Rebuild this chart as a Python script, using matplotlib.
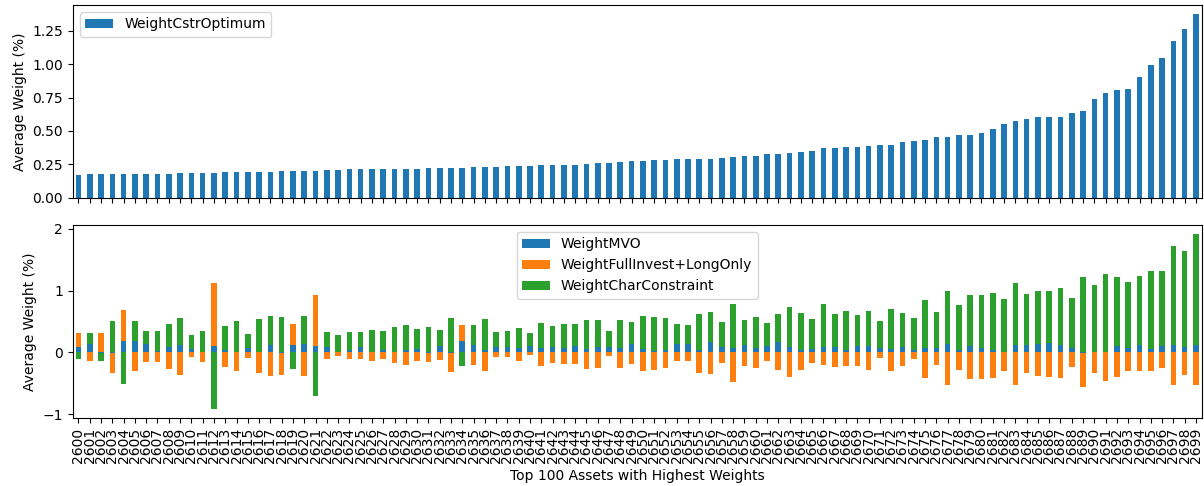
import pandas as pd
import matplotlib
matplotlib.use('Agg')
import matplotlib.pyplot as plt

assets = [str(a) for a in range(2600, 2700)]

cstr_optimum = [0.171, 0.178, 0.178, 0.178, 0.178, 0.178, 0.178, 0.178, 0.178, 0.186,
                0.186, 0.186, 0.186, 0.193, 0.193, 0.193, 0.193, 0.193, 0.200, 0.200,
                0.200, 0.200, 0.208, 0.208, 0.215, 0.215, 0.215, 0.215, 0.215, 0.215,
                0.215, 0.223, 0.223, 0.223, 0.223, 0.230, 0.230, 0.230, 0.238, 0.238,
                0.238, 0.245, 0.245, 0.245, 0.245, 0.252, 0.260, 0.260, 0.267, 0.275,
                0.275, 0.282, 0.282, 0.290, 0.290, 0.290, 0.290, 0.297, 0.304, 0.312,
                0.312, 0.327, 0.327, 0.334, 0.342, 0.349, 0.371, 0.371, 0.379, 0.381,
                0.389, 0.396, 0.396, 0.418, 0.426, 0.433, 0.458, 0.458, 0.473, 0.473,
                0.488, 0.517, 0.554, 0.577, 0.587, 0.601, 0.601, 0.601, 0.631, 0.653,
                0.738, 0.787, 0.804, 0.812, 0.903, 0.993, 1.047, 1.176, 1.260, 1.374]

w_mvo = [0.08, 0.134, -0.01, -0.015, 0.177, 0.177, 0.134, 0.016, 0.08, 0.113,
         0.048, 0.01, 0.097, 0.032, 0.01, 0.065, 0.01, 0.113, -0.015, 0.113,
         0.134, 0.097, 0.08, 0.01, 0.032, 0.08, 0.01, 0.032, 0.01, 0.032,
         0.048, -0.01, 0.097, -0.015, 0.177, 0.113, 0.032, 0.08, 0.08, 0.065,
         0.097, 0.065, 0.08, 0.065, 0.097, 0.048, 0.08, 0.08, 0.065, 0.134,
         0.048, 0.016, 0.032, 0.134, 0.134, 0.032, 0.167, 0.08, 0.065, 0.113,
         0.065, 0.097, 0.167, 0.08, 0.032, 0.048, 0.08, 0.08, 0.032, 0.097,
         0.097, 0.065, 0.048, 0.08, 0.032, 0.065, 0.065, 0.134, 0.032, 0.097,
         0.065, 0.032, 0.005, 0.113, 0.113, 0.134, 0.15, 0.113, 0.065, -0.015,
         0.01, 0.0, 0.097, 0.065, 0.113, 0.048, 0.097, 0.113, 0.08, 0.113]

w_full_long = [0.23, -0.134, 0.31, -0.317, 0.51, -0.31, -0.15, -0.15, -0.263, -0.36,
               -0.08, -0.16, 1.02, -0.23, -0.31, -0.097, -0.333, -0.376, -0.344, 0.35,
               -0.376, 0.823, -0.113, -0.065, -0.113, -0.113, -0.145, -0.113, -0.177, -0.21,
               -0.145, -0.15, -0.13, -0.296, 0.27, -0.21, -0.296, -0.08, -0.08, -0.145,
               -0.048, -0.215, -0.177, -0.194, -0.194, -0.263, -0.247, -0.065, -0.247, -0.194,
               -0.296, -0.28, -0.247, -0.145, -0.145, -0.328, -0.344, -0.177, -0.473, -0.215,
               -0.247, -0.145, -0.28, -0.398, -0.28, -0.177, -0.21, -0.231, -0.215, -0.215,
               -0.28, -0.097, -0.296, -0.215, -0.113, -0.41, -0.2, -0.527, -0.28, -0.425,
               -0.425, -0.41, -0.31, -0.527, -0.328, -0.376, -0.392, -0.41, -0.231, -0.543,
               -0.328, -0.457, -0.392, -0.31, -0.31, -0.296, -0.247, -0.527, -0.36, -0.527]

w_char = [-0.11, 0.18, -0.125, 0.505, -0.51, 0.328, 0.21, 0.328, 0.38, 0.44,
          0.23, 0.333, -0.92, 0.39, 0.495, 0.23, 0.53, 0.48, 0.575, -0.263,
          0.457, -0.704, 0.247, 0.27, 0.296, 0.247, 0.35, 0.31, 0.4, 0.415,
          0.33, 0.41, 0.263, 0.554, -0.215, 0.333, 0.505, 0.247, 0.264, 0.328,
          0.215, 0.408, 0.344, 0.4, 0.366, 0.473, 0.44, 0.264, 0.457, 0.36,
          0.543, 0.56, 0.52, 0.328, 0.312, 0.59, 0.49, 0.41, 0.72, 0.41,
          0.51, 0.376, 0.457, 0.656, 0.61, 0.49, 0.704, 0.543, 0.64, 0.51,
          0.575, 0.44, 0.656, 0.56, 0.52, 0.785, 0.59, 0.866, 0.736, 0.823,
          0.855, 0.92, 0.86, 1.005, 0.823, 0.866, 0.85, 0.92, 0.806, 1.215,
          1.075, 1.263, 1.118, 1.08, 1.118, 1.263, 1.215, 1.613, 1.565, 1.806]

df_top = pd.DataFrame({'WeightCstrOptimum': cstr_optimum}, index=assets)
df_bot = pd.DataFrame({'WeightMVO': w_mvo,
                       'WeightFullInvest+LongOnly': w_full_long,
                       'WeightCharConstraint': w_char}, index=assets)

fig, (ax1, ax2) = plt.subplots(2, 1, figsize=(12.04, 4.86), dpi=100, sharex=True)
plt.subplots_adjust(left=0.0605, right=0.998, top=0.99, bottom=0.14, hspace=0.14)

df_top.plot(kind='bar', ax=ax1)
ax1.set_ylabel('Average Weight (%)')
ax1.legend(loc='upper left')
ax1.tick_params(labelbottom=False)

df_bot.plot(kind='bar', stacked=True, ax=ax2)
ax2.set_ylabel('Average Weight (%)')
ax2.set_xlabel('Top 100 Assets with Highest Weights')
ax2.legend(loc='upper center')

plt.savefig('out.png', dpi=100)
